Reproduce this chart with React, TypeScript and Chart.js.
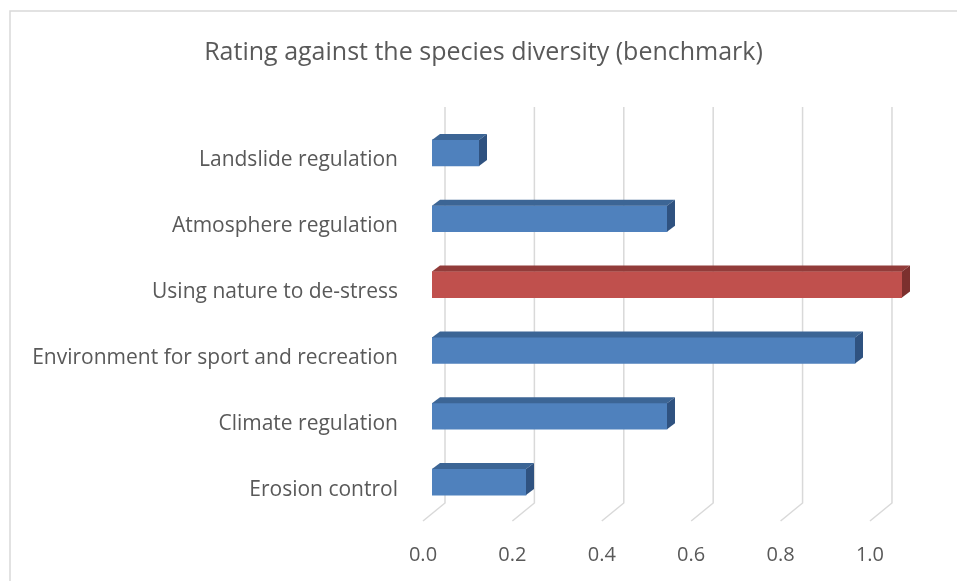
import React, { useEffect, useRef } from "react";
import { Chart, registerables } from "chart.js";

Chart.register(...registerables);

const categories = [
  "Landslide regulation",
  "Atmosphere regulation",
  "Using nature to de-stress",
  "Environment for sport and recreation",
  "Climate regulation",
  "Erosion control",
];
const ratings = [0.1, 0.5, 1.0, 0.9, 0.5, 0.2];
const benchmark = "Using nature to de-stress";
const chartTitle = "Rating against the species diversity (benchmark)";
const axisMin = 0;
const axisMax = 1;
const axisStep = 0.2;

const FONT = "'Open Sans', 'Noto Sans', sans-serif";
const TEXT = "#595959";
const GRID = "#d9d9d9";

// front / top / side shades of each bar colour
const BLUE = { front: "#4f81bd", top: "#3c6595", side: "#2f5280" };
const RED = { front: "#c0504d", top: "#923c3a", side: "#7c302e" };

const shades = categories.map((c) => (c === benchmark ? RED : BLUE));

// depth of the bar boxes and of the back wall
const BAR_DX = 8;
const BAR_DY = 6;
const WALL_DX = 22;
const WALL_DY = 18;
const WALL_SCALE = 0.951;

const depthPlugin = {
  id: "depth3d",
  beforeDraw(chart: any) {
    const { ctx, width, height } = chart;
    ctx.save();
    ctx.fillStyle = "#ffffff";
    ctx.fillRect(0, 0, width, height);
    ctx.strokeStyle = GRID;
    ctx.lineWidth = 1.5;
    ctx.strokeRect(10, 11, width + 10, height + 10);
    ctx.restore();
  },
  beforeDatasetsDraw(chart: any) {
    const { ctx, chartArea } = chart;
    const x = chart.scales.x;
    ctx.save();
    ctx.strokeStyle = GRID;
    ctx.lineWidth = 1.5;
    const wallTop = chartArea.top - 13;
    const wallBottom = chartArea.bottom - 12;
    x.ticks.forEach((t: any) => {
      const px = x.getPixelForValue(t.value);
      const back = x.left + 13 + (px - x.left) * WALL_SCALE;
      ctx.beginPath();
      ctx.moveTo(back, wallTop);
      ctx.lineTo(back, wallBottom);
      ctx.lineTo(back - WALL_DX, wallBottom + WALL_DY);
      ctx.stroke();
    });
    ctx.restore();
  },
  afterDatasetsDraw(chart: any) {
    const { ctx } = chart;
    const meta = chart.getDatasetMeta(0);
    ctx.save();
    meta.data.forEach((bar: any, i: number) => {
      const { x, y, base, height } = bar.getProps(["x", "y", "base", "height"], true);
      const top = y - height / 2;
      const bottom = y + height / 2;
      const s = shades[i];
      ctx.fillStyle = s.top;
      ctx.beginPath();
      ctx.moveTo(base, top);
      ctx.lineTo(base + BAR_DX, top - BAR_DY);
      ctx.lineTo(x + BAR_DX, top - BAR_DY);
      ctx.lineTo(x, top);
      ctx.closePath();
      ctx.fill();
      ctx.fillStyle = s.side;
      ctx.beginPath();
      ctx.moveTo(x, top);
      ctx.lineTo(x + BAR_DX, top - BAR_DY);
      ctx.lineTo(x + BAR_DX, bottom - BAR_DY);
      ctx.lineTo(x, bottom);
      ctx.closePath();
      ctx.fill();
    });
    ctx.restore();
  },
  afterDraw(chart: any) {
    const { ctx, chartArea, width } = chart;
    const x = chart.scales.x;
    ctx.save();
    ctx.fillStyle = TEXT;
    ctx.textAlign = "center";
    ctx.textBaseline = "middle";
    ctx.font = `20px ${FONT}`;
    x.ticks.forEach((t: any) => {
      const px = x.getPixelForValue(t.value);
      const back = x.left + 13 + (px - x.left) * WALL_SCALE;
      ctx.fillText(Number(t.value).toFixed(1), back - WALL_DX, chartArea.bottom + 40);
    });
    ctx.font = `25px ${FONT}`;
    ctx.fillText(chartTitle, (10 + width) / 2, 53);
    ctx.restore();
  },
};

export default function App() {
  const ref = useRef<HTMLCanvasElement>(null);

  useEffect(() => {
    if (!ref.current) return;
    const chart = new Chart(ref.current, {
      type: "bar",
      data: {
        labels: categories,
        datasets: [
          {
            data: ratings,
            backgroundColor: shades.map((s) => s.front),
            borderWidth: 0,
            barThickness: 26,
          },
        ],
      },
      plugins: [depthPlugin],
      options: {
        responsive: false,
        animation: false,
        indexAxis: "y",
        layout: { padding: { top: 120, bottom: 66, right: 55, left: 0 } },
        plugins: {
          legend: { display: false },
          tooltip: { enabled: false },
          title: { display: false },
        },
        scales: {
          x: {
            display: false,
            min: axisMin,
            max: axisMax,
            ticks: { stepSize: axisStep },
          },
          y: {
            grid: { display: false, drawTicks: false },
            border: { display: false },
            ticks: {
              padding: 34,
              labelOffset: 7.5,
              color: TEXT,
              font: { family: FONT, size: 21 },
            },
            afterFit: (s: any) => {
              s.width = 432;
            },
          },
        },
      },
    });
    return () => chart.destroy();
  }, []);

  return (
    <div style={{ position: "fixed", left: 0, top: 0, width: 957, height: 581, background: "#fff" }}>
      <canvas ref={ref} width={957} height={581} />
    </div>
  );
}
